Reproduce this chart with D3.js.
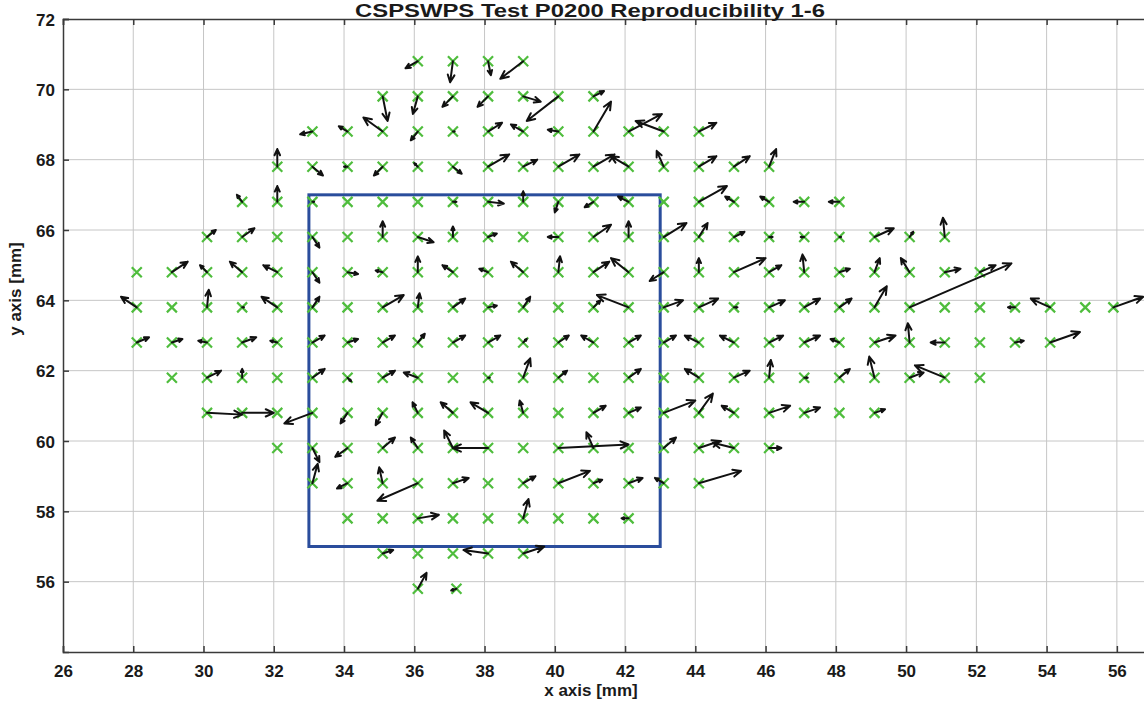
<!DOCTYPE html>
<html>
<head>
<meta charset="utf-8">
<script src="https://cdn.jsdelivr.net/npm/d3@7"></script>
<style>
  body { margin: 0; background: #fff; }
  text { font-family: "Liberation Sans", Arial, sans-serif; font-weight: bold; fill: #1a1a1a; }
</style>
</head>
<body>
<svg id="chart" width="1144" height="704"></svg>
<script>
// chart values (mm)
const title = "CSPSWPS Test P0200 Reproducibility 1-6";
const xTicks = [26, 28, 30, 32, 34, 36, 38, 40, 42, 44, 46, 48, 50, 52, 54, 56];
const yTicks = [56, 58, 60, 62, 64, 66, 68, 70, 72];
const boxCorners = [[33, 57], [43, 67]];

// each row: [x, u, v] at the row's y
const r70_8 = [[36.1,-0.35,-0.2],[37.1,-0.08,-0.6],[38.1,0.08,-0.4],[39.1,-0.65,-0.5]];
const r69_8 = [[35.1,0.14,-0.7],[36.1,-0.14,-0.5],[37.1,-0.3,-0.3],[38.1,-0.3,-0.3],[39.1,0.5,-0.15],[40.1,-0.9,-0.7],[41.1,0.3,0.15]];
const r68_8 = [[33.1,-0.35,-0.08],[34.1,-0.25,0.15],[35.1,-0.55,0.4],[36.1,-0.2,-0.25],[37.1,0.05,0],[38.1,0.4,0.25],[39.1,-0.35,0.2],[40.1,-0.3,0.05],[41.1,0.5,0.85],[42.1,0.95,0.5],[43.1,-0.8,0.3],[44.1,0.5,0.25]];
const r67_8 = [[32.1,0,0.5],[33.1,0.3,-0.25],[34.1,-0.1,0],[35.1,-0.25,-0.25],[36.1,-0.1,0.1],[37.1,0.25,-0.2],[38.1,0.6,0.35],[39.1,0.4,0.2],[40.1,0.6,0.35],[41.1,0.6,0.35],[42.1,-0.5,0.3],[43.1,-0.2,0.45],[44.1,0.5,0.3],[45.1,0.45,0.3],[46.1,0.2,0.5]];
const r66_8 = [[31.1,-0.15,0.2],[32.1,0,0.45],[33.1,0.05,0],[34.1,0,0],[35.1,0,0],[36.1,0,0],[37.1,0.1,0],[38.1,0.45,-0.05],[39.1,0,0.3],[40.1,-0.1,-0.3],[41.1,-0.25,-0.15],[42.1,-0.3,0.15],[43.1,0,0],[44.1,0.8,0.45],[45.1,-0.25,0.15],[46.1,-0.25,0.15],[47.1,-0.3,0],[48.1,-0.3,0]];
const r65_8 = [[30.1,0.25,0.2],[31.1,0.35,0.25],[32.1,0,0],[33.1,0.2,-0.3],[34.1,0,0],[35.1,0,0.45],[36.1,0.45,-0.15],[37.1,0,0.3],[38.1,0.25,0.1],[39.1,0,0],[40.1,-0.3,0],[41.1,0.5,0.35],[42.1,0,0.45],[43.1,0.65,0.4],[44.1,0.25,0.4],[45.1,0.3,0.15],[46.1,0.1,0],[47.1,-0.1,0],[48.1,0.05,0],[49.1,0.55,0.25],[50.1,0.1,0.15],[51.1,-0.05,0.55]];
const r64_8 = [[28.1,0,0],[29.1,0.45,0.3],[30.1,-0.2,0.2],[31.1,-0.35,0.3],[32.1,-0.4,0.2],[33.1,0.2,-0.3],[34.1,0.3,-0.05],[35.1,-0.2,0.05],[36.1,0,0.45],[37.1,-0.3,0.2],[38.1,-0.25,0.1],[39.1,-0.35,0.3],[40.1,0.05,0.45],[41.1,0.45,0.3],[42.1,-0.5,0.4],[43.1,-0.4,-0.25],[44.1,0,0.4],[45.1,0.9,0.4],[46.1,0.35,0.2],[47.1,-0.05,0.5],[48.1,0.3,0.1],[49.1,0.15,0.4],[50.1,-0.25,0.4],[51.1,0.45,0.1],[52.1,0.45,0.2]];
const r63_8 = [[28.1,-0.45,0.3],[29.1,0,0],[30.1,0.05,0.5],[31.1,0.05,0],[32.1,-0.45,0.3],[33.1,0.2,0.3],[34.1,0,0],[35.1,0.6,0.35],[36.1,0.05,0.4],[37.1,0.35,0.25],[38.1,0.25,0.05],[39.1,0.2,0.3],[40.1,0,0],[41.1,0.2,0.2],[42.1,-0.9,0.35],[43.1,0.55,0.2],[44.1,0.55,0.25],[45.1,0.1,0],[46.1,0.45,0.2],[47.1,0.45,0.25],[48.1,0.35,0.25],[49.1,0.35,0.6],[50.1,2.9,1.25],[51.1,0,0],[52.1,0,0],[53.1,-0.2,0],[54.1,-0.55,0.25],[55.1,0,0],[55.9,0.85,0.3]];
const r62_8 = [[28.1,0.35,0.15],[29.1,0.3,0.1],[30.1,-0.25,0.05],[31.1,0.4,0.15],[32.1,-0.2,0.05],[33.1,0.35,0.2],[34.1,0.3,0.1],[35.1,0.35,0.2],[36.1,0.2,0.25],[37.1,0.35,0.2],[38.1,0.35,0.2],[39.1,0.1,0.1],[40.1,0.3,0.2],[41.1,-0.35,0.2],[42.1,0.35,0.2],[43.1,0.35,0.2],[44.1,-0.4,0.2],[45.1,-0.4,0.2],[46.1,0.4,0.2],[47.1,0.45,0.2],[48.1,-0.25,0.1],[49.1,0.6,0.2],[50.1,-0.05,0.55],[51.1,-0.4,0],[52.1,0,0],[53.1,0.25,0.05],[54.1,0.85,0.3]];
const r61_8 = [[29.1,0,0],[30.1,0.4,0.2],[31.1,0,0.25],[32.1,0,0],[33.1,0.35,0.25],[34.1,0.1,-0.1],[35.1,0.35,0.2],[36.1,-0.4,0.15],[37.1,0,0],[38.1,0.05,0],[39.1,0.2,0.55],[40.1,0.25,0.2],[41.1,0,0],[42.1,0.35,0.25],[43.1,0,0],[44.1,-0.4,0.25],[45.1,0.45,0.2],[46.1,0.05,0.5],[47.1,0.1,0],[48.1,0.3,0.25],[49.1,-0.15,0.6],[50.1,0.4,0.15],[51.1,-0.85,0.35],[52.1,0,0]];
const r60_8 = [[30.1,1.0,-0.05],[31.1,0.9,0],[32.1,0,0],[33.1,-0.8,-0.3],[34.1,-0.2,-0.3],[35.1,-0.2,-0.35],[36.1,-0.15,0.3],[37.1,-0.35,0.3],[38.1,-0.5,0.3],[39.1,-0.1,0.35],[40.1,0,0],[41.1,0.35,0.2],[42.1,0.35,0.15],[43.1,0.9,0.35],[44.1,0.4,0.55],[45.1,-0.35,0.2],[46.1,0.6,0.2],[47.1,0.45,0.15],[48.1,0,0],[49.1,0.3,0.1]];
const r59_8 = [[32.1,0,0],[33.1,0.2,-0.4],[34.1,-0.35,-0.25],[35.1,0.35,0.3],[36.1,-0.2,0.3],[37.1,-0.25,0.5],[38.1,-1.0,0],[39.1,0,0],[40.1,2.0,0.1],[41.1,-0.2,0.45],[42.1,0,0],[43.1,0.35,0.3],[44.1,0.6,0.2],[45.1,-0.6,0.15],[46.1,0.35,0]];
const r58_8 = [[33.1,0.15,0.55],[34.1,-0.3,-0.15],[35.1,-0.1,0.45],[36.1,-1.15,-0.5],[37.1,0.45,0.15],[38.1,0,0],[39.1,0.35,0.2],[40.1,0.9,0.35],[41.1,0.25,0.1],[42.1,0.4,0.15],[43.1,-0.25,0.15],[44.1,1.2,0.35]];
const r57_8 = [[34.1,0,0],[35.1,0,0],[36.1,0.6,0.1],[37.1,0,0],[38.1,0,0],[39.1,0.15,0.55],[40.1,0,0],[41.1,0,0],[42.1,-0.2,0]];
const r56_8 = [[35.1,0.3,0.1],[36.1,0,0],[37.1,0,0],[38.1,-0.7,0.1],[39.1,0.6,0.2]];
const r55_8 = [[36.1,0.25,0.45],[37.2,-0.15,-0.05]];

const rows = [
  [70.8, r70_8], [69.8, r69_8], [68.8, r68_8], [67.8, r67_8], [66.8, r66_8],
  [65.8, r65_8], [64.8, r64_8], [63.8, r63_8], [62.8, r62_8], [61.8, r61_8],
  [60.8, r60_8], [59.8, r59_8], [58.8, r58_8], [57.8, r57_8], [56.8, r56_8], [55.8, r55_8]
];

// flatten for drawing
const vectors = [];
rows.forEach(([yy, list]) => list.forEach(([xx, u, v]) => vectors.push({x: xx, y: yy, u: u, v: v})));

const svg = d3.select("#chart");
svg.append("rect").attr("width", 1144).attr("height", 704).attr("fill", "#fff");

const x = d3.scaleLinear().domain([26, 57]).range([63, 1152]);
const y = d3.scaleLinear().domain([54, 72]).range([652, 19]);

// grid
const grid = svg.append("g").attr("stroke", "#c6c6c6").attr("stroke-width", 1);
grid.selectAll(".gx").data(xTicks.slice(1)).join("line")
  .attr("x1", d => x(d)).attr("x2", d => x(d))
  .attr("y1", y(72)).attr("y2", y(54));
grid.selectAll(".gy").data(yTicks.slice(0, -1)).join("line")
  .attr("x1", x(26)).attr("x2", x(57))
  .attr("y1", d => y(d)).attr("y2", d => y(d));

// axes with inward ticks
const xAxis = svg.append("g").attr("transform", `translate(0,${y(54)})`)
  .call(d3.axisBottom(x).tickValues(xTicks).tickSize(-6).tickPadding(13).tickFormat(d3.format("d")));
const xTop = svg.append("g").attr("transform", `translate(0,${y(72)})`)
  .call(d3.axisTop(x).tickValues(xTicks).tickSize(-6).tickFormat(""));
const yAxis = svg.append("g").attr("transform", `translate(${x(26)},0)`)
  .call(d3.axisLeft(y).tickValues(yTicks).tickSize(-6).tickPadding(8).tickFormat(d3.format("d")));

[xAxis, xTop, yAxis].forEach(g => {
  g.select(".domain").attr("stroke", "#3a3a3a").attr("stroke-width", 1.5);
  g.selectAll(".tick line").attr("stroke", "#3a3a3a").attr("stroke-width", 1.5);
  g.selectAll(".tick text").attr("font-size", 17).attr("font-family", "Liberation Sans, Arial, sans-serif")
    .attr("font-weight", "bold").attr("fill", "#1a1a1a");
});
yAxis.selectAll(".tick text").attr("dy", "0.36em");

// blue region box
svg.append("rect")
  .attr("x", x(boxCorners[0][0])).attr("y", y(boxCorners[1][1]))
  .attr("width", x(boxCorners[1][0]) - x(boxCorners[0][0]))
  .attr("height", y(boxCorners[0][1]) - y(boxCorners[1][1]))
  .attr("fill", "none").attr("stroke", "#2a4d9c").attr("stroke-width", 3);

// green cross markers
const ms = 5;
svg.append("g").selectAll("path").data(vectors).join("path")
  .attr("d", d => {
    const cx = x(d.x), cy = y(d.y);
    return `M${cx - ms},${cy - ms}L${cx + ms},${cy + ms}M${cx - ms},${cy + ms}L${cx + ms},${cy - ms}`;
  })
  .attr("stroke", "#4fbd3d").attr("stroke-width", 2.2).attr("fill", "none");

// quiver arrows
function arrowPath(d) {
  const x0 = x(d.x), y0 = y(d.y);
  const x1 = x(d.x + d.u), y1 = y(d.y + d.v);
  const dx = x1 - x0, dy = y1 - y0;
  const len = Math.hypot(dx, dy);
  if (len < 1.5) return "";
  const hl = Math.min(len * 0.35, 8), hw = hl * 0.45;
  const ux = dx / len, uy = dy / len;
  const bx = x1 - ux * hl, by = y1 - uy * hl;
  return `M${x0},${y0}L${x1},${y1}` +
    `M${bx - uy * hw},${by + ux * hw}L${x1},${y1}L${bx + uy * hw},${by - ux * hw}`;
}
svg.append("g").selectAll("path").data(vectors).join("path")
  .attr("d", arrowPath)
  .attr("stroke", "#111").attr("stroke-width", 2).attr("fill", "none")
  .attr("stroke-linejoin", "round").attr("stroke-linecap", "round");

// title and labels
svg.append("text").attr("x", 590).attr("y", 17).attr("text-anchor", "middle")
  .attr("font-size", 18).attr("textLength", 470).attr("lengthAdjust", "spacingAndGlyphs").text(title);
svg.append("text").attr("x", 591).attr("y", 696).attr("text-anchor", "middle")
  .attr("font-size", 17).text("x axis [mm]");
svg.append("text").attr("transform", "translate(21,289) rotate(-90)").attr("text-anchor", "middle")
  .attr("font-size", 17).text("y axis [mm]");
</script>
</body>
</html>
